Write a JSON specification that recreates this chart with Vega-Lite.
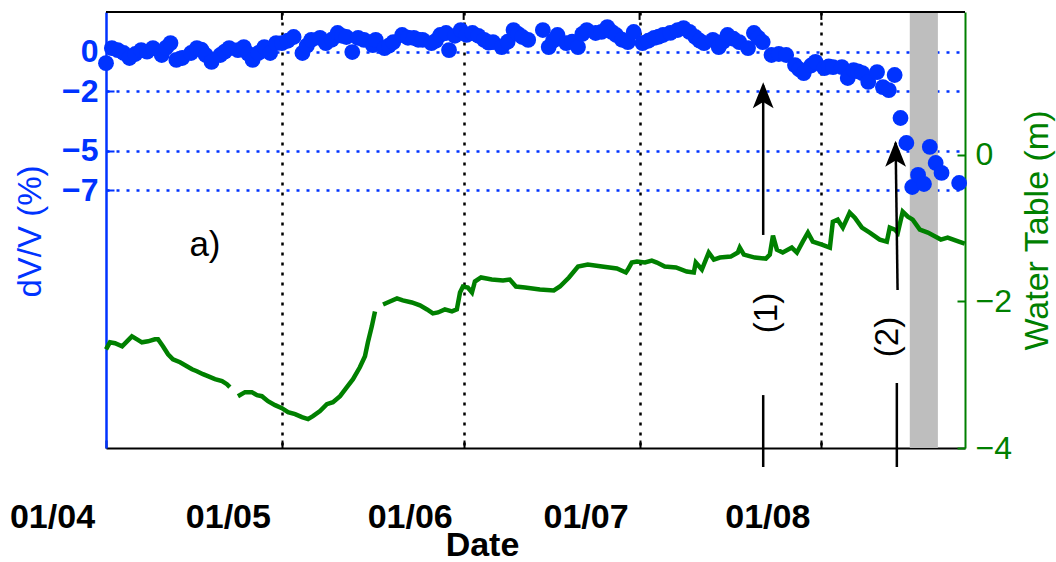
{
 "$schema": "https://vega.github.io/schema/vega-lite/v6.json",
 "width": 859,
 "height": 436,
 "autosize": {"type": "none"},
 "padding": {"left": 106, "top": 12, "right": 91, "bottom": 114},
 "background": "white",
 "config": {"view": {"stroke": null}, "font": "Liberation Sans"},
 "datasets": {
  "band": [{"t0": "2010-08-16T02:00:00Z", "t1": "2010-08-20T21:00:00Z"}],
  "gridt": [{"t": "2010-05-01T00:00:00Z"}, {"t": "2010-06-01T00:00:00Z"}, {"t": "2010-07-01T00:00:00Z"}, {"t": "2010-08-01T00:00:00Z"}],
  "arrows": [
   {"t": "2010-07-22T02:00:00Z", "t2": "2010-07-22T02:00:00Z", "v": -1.7, "v2": -9.25},
   {"t": "2010-07-22T02:00:00Z", "t2": "2010-07-22T02:00:00Z", "v": -17.33, "v2": -20.96},
   {"t": "2010-08-13T16:00:00Z", "t2": "2010-08-14T00:00:00Z", "v": -4.6, "v2": -12.03},
   {"t": "2010-08-13T21:00:00Z", "t2": "2010-08-13T21:00:00Z", "v": -16.72, "v2": -20.96}
  ],
  "heads": [{"t": "2010-07-22T02:00:00Z", "v": -1.55}, {"t": "2010-08-13T16:00:00Z", "v": -4.5}],
  "notes": [{"t": "2010-07-22T17:00:00Z", "v": -13.19, "label": "(1)"}, {"t": "2010-08-12T08:00:00Z", "v": -14.4, "label": "(2)"}],
  "panel": [{"t": "2010-04-17T21:00:00Z", "v": -9.76, "label": "a)"}],
  "dv": [
   {"t": "2010-04-01T00:00:00Z", "v": -0.58},
   {"t": "2010-04-02T00:00:00Z", "v": 0.18},
   {"t": "2010-04-03T00:00:00Z", "v": 0.08},
   {"t": "2010-04-04T00:00:00Z", "v": -0.07},
   {"t": "2010-04-05T00:00:00Z", "v": -0.32},
   {"t": "2010-04-06T00:00:00Z", "v": -0.12},
   {"t": "2010-04-07T00:00:00Z", "v": 0.08},
   {"t": "2010-04-08T00:00:00Z", "v": 0.0},
   {"t": "2010-04-09T00:00:00Z", "v": 0.18},
   {"t": "2010-04-10T12:00:00Z", "v": -0.17},
   {"t": "2010-04-11T06:00:00Z", "v": 0.2},
   {"t": "2010-04-12T00:00:00Z", "v": 0.43},
   {"t": "2010-04-13T00:00:00Z", "v": -0.42},
   {"t": "2010-04-14T00:00:00Z", "v": -0.32},
   {"t": "2010-04-15T12:00:00Z", "v": -0.07},
   {"t": "2010-04-16T12:00:00Z", "v": 0.18},
   {"t": "2010-04-17T06:00:00Z", "v": 0.1},
   {"t": "2010-04-18T00:00:00Z", "v": -0.17},
   {"t": "2010-04-19T00:00:00Z", "v": -0.52},
   {"t": "2010-04-20T12:00:00Z", "v": -0.17},
   {"t": "2010-04-21T06:00:00Z", "v": 0.0},
   {"t": "2010-04-22T00:00:00Z", "v": 0.18},
   {"t": "2010-04-23T12:00:00Z", "v": 0.08},
   {"t": "2010-04-24T12:00:00Z", "v": 0.23},
   {"t": "2010-04-25T06:00:00Z", "v": -0.1},
   {"t": "2010-04-26T00:00:00Z", "v": -0.42},
   {"t": "2010-04-27T00:00:00Z", "v": -0.07},
   {"t": "2010-04-28T00:00:00Z", "v": 0.23},
   {"t": "2010-04-29T00:00:00Z", "v": -0.07},
   {"t": "2010-04-30T00:00:00Z", "v": 0.43},
   {"t": "2010-05-01T00:00:00Z", "v": 0.43},
   {"t": "2010-05-02T00:00:00Z", "v": 0.55},
   {"t": "2010-05-03T00:00:00Z", "v": 0.74},
   {"t": "2010-05-04T12:00:00Z", "v": -0.07},
   {"t": "2010-05-05T06:00:00Z", "v": 0.3},
   {"t": "2010-05-06T00:00:00Z", "v": 0.59},
   {"t": "2010-05-07T12:00:00Z", "v": 0.69},
   {"t": "2010-05-08T12:00:00Z", "v": 0.43},
   {"t": "2010-05-09T12:00:00Z", "v": 0.6},
   {"t": "2010-05-10T12:00:00Z", "v": 0.94},
   {"t": "2010-05-11T06:00:00Z", "v": 0.8},
   {"t": "2010-05-12T00:00:00Z", "v": 0.74},
   {"t": "2010-05-13T00:00:00Z", "v": -0.02},
   {"t": "2010-05-14T00:00:00Z", "v": 0.69},
   {"t": "2010-05-15T00:00:00Z", "v": 0.59},
   {"t": "2010-05-16T12:00:00Z", "v": 0.33},
   {"t": "2010-05-17T00:00:00Z", "v": 0.59},
   {"t": "2010-05-18T12:00:00Z", "v": 0.18},
   {"t": "2010-05-19T06:00:00Z", "v": 0.3},
   {"t": "2010-05-20T00:00:00Z", "v": 0.48},
   {"t": "2010-05-21T12:00:00Z", "v": 0.84},
   {"t": "2010-05-22T12:00:00Z", "v": 0.7},
   {"t": "2010-05-23T12:00:00Z", "v": 0.69},
   {"t": "2010-05-24T06:00:00Z", "v": 0.6},
   {"t": "2010-05-25T00:00:00Z", "v": 0.59},
   {"t": "2010-05-26T12:00:00Z", "v": 0.43},
   {"t": "2010-05-27T06:00:00Z", "v": 0.55},
   {"t": "2010-05-28T00:00:00Z", "v": 0.84},
   {"t": "2010-05-29T00:00:00Z", "v": 0.94},
   {"t": "2010-05-29T12:00:00Z", "v": 0.08},
   {"t": "2010-05-30T12:00:00Z", "v": 0.8},
   {"t": "2010-05-31T12:00:00Z", "v": 1.09},
   {"t": "2010-06-01T12:00:00Z", "v": 0.85},
   {"t": "2010-06-02T12:00:00Z", "v": 0.94},
   {"t": "2010-06-03T12:00:00Z", "v": 0.8},
   {"t": "2010-06-04T12:00:00Z", "v": 0.59},
   {"t": "2010-06-05T06:00:00Z", "v": 0.45},
   {"t": "2010-06-06T00:00:00Z", "v": 0.48},
   {"t": "2010-06-07T12:00:00Z", "v": 0.23},
   {"t": "2010-06-08T12:00:00Z", "v": 0.5},
   {"t": "2010-06-09T12:00:00Z", "v": 1.09},
   {"t": "2010-06-10T06:00:00Z", "v": 0.9},
   {"t": "2010-06-11T00:00:00Z", "v": 0.74},
   {"t": "2010-06-12T00:00:00Z", "v": 0.59},
   {"t": "2010-06-14T12:00:00Z", "v": 1.09},
   {"t": "2010-06-15T12:00:00Z", "v": 0.23},
   {"t": "2010-06-16T06:00:00Z", "v": 0.55},
   {"t": "2010-06-17T00:00:00Z", "v": 0.84},
   {"t": "2010-06-18T12:00:00Z", "v": 0.43},
   {"t": "2010-06-19T12:00:00Z", "v": 0.5},
   {"t": "2010-06-20T12:00:00Z", "v": 0.23},
   {"t": "2010-06-21T06:00:00Z", "v": 0.9},
   {"t": "2010-06-22T00:00:00Z", "v": 1.09},
   {"t": "2010-06-23T12:00:00Z", "v": 0.94},
   {"t": "2010-06-24T12:00:00Z", "v": 1.0},
   {"t": "2010-06-25T12:00:00Z", "v": 1.24},
   {"t": "2010-06-26T06:00:00Z", "v": 1.0},
   {"t": "2010-06-27T00:00:00Z", "v": 0.84},
   {"t": "2010-06-28T00:00:00Z", "v": 0.6},
   {"t": "2010-06-29T00:00:00Z", "v": 0.48},
   {"t": "2010-06-30T00:00:00Z", "v": 0.99},
   {"t": "2010-07-01T12:00:00Z", "v": 0.43},
   {"t": "2010-07-02T12:00:00Z", "v": 0.55},
   {"t": "2010-07-03T12:00:00Z", "v": 0.69},
   {"t": "2010-07-04T06:00:00Z", "v": 0.75},
   {"t": "2010-07-05T00:00:00Z", "v": 0.84},
   {"t": "2010-07-06T06:00:00Z", "v": 0.95},
   {"t": "2010-07-07T12:00:00Z", "v": 1.09},
   {"t": "2010-07-08T12:00:00Z", "v": 1.19},
   {"t": "2010-07-09T12:00:00Z", "v": 1.0},
   {"t": "2010-07-10T12:00:00Z", "v": 0.74},
   {"t": "2010-07-11T06:00:00Z", "v": 0.55},
   {"t": "2010-07-12T00:00:00Z", "v": 0.43},
   {"t": "2010-07-13T12:00:00Z", "v": 0.59},
   {"t": "2010-07-14T12:00:00Z", "v": 0.23},
   {"t": "2010-07-15T06:00:00Z", "v": 0.5},
   {"t": "2010-07-16T00:00:00Z", "v": 0.84},
   {"t": "2010-07-17T00:00:00Z", "v": 0.65},
   {"t": "2010-07-18T00:00:00Z", "v": 0.48},
   {"t": "2010-07-19T12:00:00Z", "v": 0.18},
   {"t": "2010-07-20T12:00:00Z", "v": 0.94},
   {"t": "2010-07-21T06:00:00Z", "v": 0.7},
   {"t": "2010-07-22T00:00:00Z", "v": 0.48},
   {"t": "2010-07-23T12:00:00Z", "v": -0.17},
   {"t": "2010-07-24T18:00:00Z", "v": -0.12},
   {"t": "2010-07-26T00:00:00Z", "v": -0.17},
   {"t": "2010-07-27T12:00:00Z", "v": -0.68},
   {"t": "2010-07-28T06:00:00Z", "v": -0.9},
   {"t": "2010-07-29T00:00:00Z", "v": -1.08},
   {"t": "2010-07-30T06:00:00Z", "v": -0.7},
   {"t": "2010-07-31T00:00:00Z", "v": -0.52},
   {"t": "2010-08-01T12:00:00Z", "v": -0.83},
   {"t": "2010-08-02T06:00:00Z", "v": -0.75},
   {"t": "2010-08-03T00:00:00Z", "v": -0.78},
   {"t": "2010-08-04T12:00:00Z", "v": -0.78},
   {"t": "2010-08-05T12:00:00Z", "v": -1.33},
   {"t": "2010-08-06T12:00:00Z", "v": -0.93},
   {"t": "2010-08-07T06:00:00Z", "v": -1.0},
   {"t": "2010-08-08T00:00:00Z", "v": -1.08},
   {"t": "2010-08-09T00:00:00Z", "v": -1.53},
   {"t": "2010-08-10T12:00:00Z", "v": -1.03},
   {"t": "2010-08-11T12:00:00Z", "v": -1.79},
   {"t": "2010-08-12T12:00:00Z", "v": -1.94},
   {"t": "2010-08-13T12:00:00Z", "v": -1.18},
   {"t": "2010-08-14T12:00:00Z", "v": -3.35},
   {"t": "2010-08-15T12:00:00Z", "v": -4.61},
   {"t": "2010-08-16T12:00:00Z", "v": -6.83},
   {"t": "2010-08-17T12:00:00Z", "v": -6.22},
   {"t": "2010-08-18T12:00:00Z", "v": -6.68},
   {"t": "2010-08-19T12:00:00Z", "v": -4.81},
   {"t": "2010-08-20T12:00:00Z", "v": -5.62},
   {"t": "2010-08-21T12:00:00Z", "v": -6.12},
   {"t": "2010-08-24T12:00:00Z", "v": -6.63}
  ],
  "water": [
   {"t": "2010-04-01T00:00:00Z", "w": -2.653},
   {"t": "2010-04-01T16:00:00Z", "w": -2.558},
   {"t": "2010-04-02T13:00:00Z", "w": -2.571},
   {"t": "2010-04-03T18:00:00Z", "w": -2.612},
   {"t": "2010-04-04T14:00:00Z", "w": -2.544},
   {"t": "2010-04-05T10:00:00Z", "w": -2.476},
   {"t": "2010-04-06T07:00:00Z", "w": -2.517},
   {"t": "2010-04-07T03:00:00Z", "w": -2.558},
   {"t": "2010-04-08T04:00:00Z", "w": -2.544},
   {"t": "2010-04-09T08:00:00Z", "w": -2.517},
   {"t": "2010-04-09T21:00:00Z", "w": -2.517},
   {"t": "2010-04-10T17:00:00Z", "w": -2.612},
   {"t": "2010-04-11T14:00:00Z", "w": -2.721},
   {"t": "2010-04-12T10:00:00Z", "w": -2.789},
   {"t": "2010-04-13T15:00:00Z", "w": -2.83},
   {"t": "2010-04-14T19:00:00Z", "w": -2.884},
   {"t": "2010-04-15T16:00:00Z", "w": -2.925},
   {"t": "2010-04-16T12:00:00Z", "w": -2.952},
   {"t": "2010-04-17T13:00:00Z", "w": -2.993},
   {"t": "2010-04-18T09:00:00Z", "w": -3.02},
   {"t": "2010-04-19T14:00:00Z", "w": -3.061},
   {"t": "2010-04-20T19:00:00Z", "w": -3.088},
   {"t": "2010-04-21T15:00:00Z", "w": -3.129},
   {"t": "2010-04-22T03:00:00Z", "w": -3.17},
   {"t": "2010-04-22T14:00:00Z", "w": null},
   {"t": "2010-04-23T12:00:00Z", "w": -3.293},
   {"t": "2010-04-24T17:00:00Z", "w": -3.238},
   {"t": "2010-04-25T21:00:00Z", "w": -3.238},
   {"t": "2010-04-26T18:00:00Z", "w": -3.279},
   {"t": "2010-04-27T14:00:00Z", "w": -3.293},
   {"t": "2010-04-28T15:00:00Z", "w": -3.361},
   {"t": "2010-04-29T20:00:00Z", "w": -3.415},
   {"t": "2010-05-01T00:00:00Z", "w": -3.456},
   {"t": "2010-05-02T01:00:00Z", "w": -3.51},
   {"t": "2010-05-03T06:00:00Z", "w": -3.537},
   {"t": "2010-05-04T10:00:00Z", "w": -3.578},
   {"t": "2010-05-05T11:00:00Z", "w": -3.605},
   {"t": "2010-05-06T07:00:00Z", "w": -3.565},
   {"t": "2010-05-07T12:00:00Z", "w": -3.497},
   {"t": "2010-05-08T16:00:00Z", "w": -3.401},
   {"t": "2010-05-09T17:00:00Z", "w": -3.374},
   {"t": "2010-05-10T22:00:00Z", "w": -3.293},
   {"t": "2010-05-12T02:00:00Z", "w": -3.17},
   {"t": "2010-05-13T03:00:00Z", "w": -3.061},
   {"t": "2010-05-14T07:00:00Z", "w": -2.898},
   {"t": "2010-05-15T04:00:00Z", "w": -2.748},
   {"t": "2010-05-15T16:00:00Z", "w": -2.558},
   {"t": "2010-05-16T08:00:00Z", "w": -2.34},
   {"t": "2010-05-16T21:00:00Z", "w": -2.136},
   {"t": "2010-05-17T12:00:00Z", "w": null},
   {"t": "2010-05-18T06:00:00Z", "w": -2.041},
   {"t": "2010-05-19T10:00:00Z", "w": -2.0},
   {"t": "2010-05-20T15:00:00Z", "w": -1.959},
   {"t": "2010-05-21T15:00:00Z", "w": -1.986},
   {"t": "2010-05-23T04:00:00Z", "w": -2.014},
   {"t": "2010-05-24T13:00:00Z", "w": -2.054},
   {"t": "2010-05-25T18:00:00Z", "w": -2.109},
   {"t": "2010-05-26T18:00:00Z", "w": -2.163},
   {"t": "2010-05-27T15:00:00Z", "w": -2.15},
   {"t": "2010-05-28T19:00:00Z", "w": -2.109},
   {"t": "2010-05-30T00:00:00Z", "w": -2.136},
   {"t": "2010-05-30T20:00:00Z", "w": -2.109},
   {"t": "2010-05-31T09:00:00Z", "w": -1.878},
   {"t": "2010-05-31T21:00:00Z", "w": -1.796},
   {"t": "2010-06-01T17:00:00Z", "w": -1.81},
   {"t": "2010-06-02T10:00:00Z", "w": -1.878},
   {"t": "2010-06-02T22:00:00Z", "w": -1.728},
   {"t": "2010-06-03T23:00:00Z", "w": -1.673},
   {"t": "2010-06-05T19:00:00Z", "w": -1.701},
   {"t": "2010-06-07T17:00:00Z", "w": -1.714},
   {"t": "2010-06-08T21:00:00Z", "w": -1.701},
   {"t": "2010-06-09T22:00:00Z", "w": -1.796},
   {"t": "2010-06-11T11:00:00Z", "w": -1.81},
   {"t": "2010-06-14T00:00:00Z", "w": -1.837},
   {"t": "2010-06-16T09:00:00Z", "w": -1.85},
   {"t": "2010-06-17T10:00:00Z", "w": -1.796},
   {"t": "2010-06-18T23:00:00Z", "w": -1.673},
   {"t": "2010-06-20T12:00:00Z", "w": -1.524},
   {"t": "2010-06-22T04:00:00Z", "w": -1.497},
   {"t": "2010-06-24T14:00:00Z", "w": -1.524},
   {"t": "2010-06-27T03:00:00Z", "w": -1.551},
   {"t": "2010-06-28T16:00:00Z", "w": -1.605},
   {"t": "2010-06-29T00:00:00Z", "w": -1.565},
   {"t": "2010-06-29T16:00:00Z", "w": -1.469},
   {"t": "2010-06-30T13:00:00Z", "w": -1.456},
   {"t": "2010-07-01T22:00:00Z", "w": -1.469},
   {"t": "2010-07-03T02:00:00Z", "w": -1.442},
   {"t": "2010-07-03T23:00:00Z", "w": -1.469},
   {"t": "2010-07-05T07:00:00Z", "w": -1.524},
   {"t": "2010-07-07T05:00:00Z", "w": -1.537},
   {"t": "2010-07-09T01:00:00Z", "w": -1.592},
   {"t": "2010-07-10T06:00:00Z", "w": -1.605},
   {"t": "2010-07-10T14:00:00Z", "w": -1.469},
   {"t": "2010-07-11T15:00:00Z", "w": -1.565},
   {"t": "2010-07-12T19:00:00Z", "w": -1.333},
   {"t": "2010-07-13T16:00:00Z", "w": -1.429},
   {"t": "2010-07-14T17:00:00Z", "w": -1.401},
   {"t": "2010-07-16T13:00:00Z", "w": -1.388},
   {"t": "2010-07-17T18:00:00Z", "w": -1.333},
   {"t": "2010-07-18T02:00:00Z", "w": -1.265},
   {"t": "2010-07-18T19:00:00Z", "w": -1.361},
   {"t": "2010-07-20T16:00:00Z", "w": -1.401},
   {"t": "2010-07-22T13:00:00Z", "w": -1.415},
   {"t": "2010-07-23T05:00:00Z", "w": -1.361},
   {"t": "2010-07-23T18:00:00Z", "w": -1.102},
   {"t": "2010-07-24T10:00:00Z", "w": -1.293},
   {"t": "2010-07-25T10:00:00Z", "w": -1.333},
   {"t": "2010-07-26T23:00:00Z", "w": -1.265},
   {"t": "2010-07-27T20:00:00Z", "w": -1.333},
   {"t": "2010-07-28T20:00:00Z", "w": -1.184},
   {"t": "2010-07-29T17:00:00Z", "w": -1.061},
   {"t": "2010-07-30T13:00:00Z", "w": -1.184},
   {"t": "2010-08-01T02:00:00Z", "w": -1.224},
   {"t": "2010-08-02T11:00:00Z", "w": -1.265},
   {"t": "2010-08-02T23:00:00Z", "w": -0.912},
   {"t": "2010-08-03T19:00:00Z", "w": -0.884},
   {"t": "2010-08-04T16:00:00Z", "w": -0.993},
   {"t": "2010-08-05T20:00:00Z", "w": -0.789},
   {"t": "2010-08-06T17:00:00Z", "w": -0.857},
   {"t": "2010-08-07T22:00:00Z", "w": -0.993},
   {"t": "2010-08-09T06:00:00Z", "w": -1.061},
   {"t": "2010-08-10T23:00:00Z", "w": -1.156},
   {"t": "2010-08-12T04:00:00Z", "w": -1.184},
   {"t": "2010-08-12T16:00:00Z", "w": -0.993},
   {"t": "2010-08-13T13:00:00Z", "w": -1.02},
   {"t": "2010-08-14T01:00:00Z", "w": -1.061},
   {"t": "2010-08-14T21:00:00Z", "w": -0.776},
   {"t": "2010-08-15T18:00:00Z", "w": -0.844},
   {"t": "2010-08-16T14:00:00Z", "w": -0.884},
   {"t": "2010-08-17T19:00:00Z", "w": -1.02},
   {"t": "2010-08-19T04:00:00Z", "w": -1.061},
   {"t": "2010-08-21T09:00:00Z", "w": -1.156},
   {"t": "2010-08-22T13:00:00Z", "w": -1.129},
   {"t": "2010-08-24T11:00:00Z", "w": -1.184},
   {"t": "2010-08-25T11:00:00Z", "w": -1.211}
  ]
 },
 "layer": [
  {
   "data": {"name": "band"},
   "mark": {"type": "rect", "color": "#bebebe"},
   "encoding": {
    "x": {"field": "t0", "type": "temporal", "title": "Date",
     "scale": {"type": "utc", "domain": [{"year": 2010, "month": 4, "date": 1, "utc": true}, {"year": 2010, "month": 8, "date": 25, "hours": 12, "utc": true}]}},
    "x2": {"field": "t1"}
   }
  },
  {
   "data": {"name": "water"},
   "mark": {"type": "line", "color": "#008000", "strokeWidth": 4.5, "invalid": "break-paths-filter-domains"},
   "encoding": {
    "x": {"field": "t", "type": "temporal", "title": "Date",
     "scale": {"type": "utc", "domain": [{"year": 2010, "month": 4, "date": 1, "utc": true}, {"year": 2010, "month": 8, "date": 25, "hours": 12, "utc": true}]}},
    "y": {"field": "w", "type": "quantitative", "title": "Water Table (m)",
     "scale": {"domain": [-4, 1.95], "nice": false, "zero": false},
     "axis": {"orient": "right", "values": [0, -2, -4], "format": "d", "grid": false,
      "domainColor": "#008000", "domainWidth": 2, "tickColor": "#008000", "tickWidth": 2, "tickSize": -8,
      "labelColor": "#008000", "labelFontSize": 32, "labelFont": "Liberation Sans", "labelPadding": 18, "labelBaseline": "middle",
      "title": "Water Table (m)", "titleColor": "#008000", "titleFontSize": 34, "titleFontWeight": "normal", "titleFont": "Liberation Sans",
      "titleAngle": 270, "titleX": 72, "titleY": 218, "titleBaseline": "middle", "titleAlign": "center"}}
   }
  },
  {
   "layer": [
    {
     "data": {"name": "dv"},
     "mark": {"type": "circle", "size": 250, "color": "#0033ff", "opacity": 1},
     "encoding": {
      "x": {"field": "t", "type": "temporal", "title": "Date",
       "scale": {"type": "utc", "domain": [{"year": 2010, "month": 4, "date": 1, "utc": true}, {"year": 2010, "month": 8, "date": 25, "hours": 12, "utc": true}]},
       "axis": {"values": [{"year": 2010, "month": 4, "date": 1, "utc": true}, {"year": 2010, "month": 5, "date": 1, "utc": true}, {"year": 2010, "month": 6, "date": 1, "utc": true}, {"year": 2010, "month": 7, "date": 1, "utc": true}, {"year": 2010, "month": 8, "date": 1, "utc": true}],
        "format": "%d/%m", "labelOffset": -54, "labelPadding": 60, "labelFontSize": 34, "labelFontWeight": "bold", "labelFont": "Liberation Sans", "labelColor": "black",
        "labelFlush": false, "labelOverlap": false, "labelBound": false,
        "tickSize": -8, "tickColor": "black", "tickWidth": 2, "domainColor": "black", "domainWidth": 2,
        "grid": true, "gridColor": "black", "gridDash": [3, 7], "gridWidth": 2.5,
        "gridOpacity": {"condition": {"test": "datum.value < 1270166400000", "value": 0}, "value": 1},
        "title": "Date", "titleFontSize": 34, "titleFontWeight": "bold", "titleFont": "Liberation Sans", "titleColor": "black",
        "titleX": 376, "titleY": 107, "titleBaseline": "alphabetic", "titleAlign": "center"}},
      "y": {"field": "v", "type": "quantitative", "title": "dV/V (%)",
       "scale": {"domain": [-20, 2], "nice": false, "zero": false},
       "axis": {"orient": "left", "values": [0, -2, -5, -7], "format": "d",
        "domainColor": "#0033ff", "domainWidth": 2.5, "tickColor": "#0033ff", "tickWidth": 2, "tickSize": -8,
        "labelColor": "#0033ff", "labelFontSize": 32, "labelFontWeight": "bold", "labelFont": "Liberation Sans", "labelPadding": 16, "labelBaseline": "middle",
        "grid": true, "gridColor": "#0033ff", "gridDash": [3, 7], "gridWidth": 2.5, "gridOpacity": 1,
        "title": "dV/V (%)", "titleColor": "#0033ff", "titleFontSize": 33, "titleFontWeight": "normal", "titleFont": "Liberation Sans",
        "titleAngle": 270, "titleX": -76, "titleY": 219, "titleBaseline": "middle", "titleAlign": "center"}}
     }
    },
    {
     "data": {"name": "band"},
     "mark": {"type": "rule", "color": "black", "strokeWidth": 2},
     "encoding": {
      "y": {"datum": 2, "type": "quantitative", "title": "dV/V (%)", "scale": {"domain": [-20, 2], "nice": false, "zero": false}}
     }
    },
    {
     "data": {"name": "gridt"},
     "mark": {"type": "rule", "color": "black", "strokeWidth": 2},
     "encoding": {
      "x": {"field": "t", "type": "temporal", "title": "Date",
       "scale": {"type": "utc", "domain": [{"year": 2010, "month": 4, "date": 1, "utc": true}, {"year": 2010, "month": 8, "date": 25, "hours": 12, "utc": true}]}},
      "y": {"datum": 2, "type": "quantitative", "title": "dV/V (%)", "scale": {"domain": [-20, 2], "nice": false, "zero": false}},
      "y2": {"datum": 1.6}
     }
    },
    {
     "data": {"name": "arrows"},
     "mark": {"type": "rule", "color": "black", "strokeWidth": 2.5},
     "encoding": {
      "x": {"field": "t", "type": "temporal", "title": "Date",
       "scale": {"type": "utc", "domain": [{"year": 2010, "month": 4, "date": 1, "utc": true}, {"year": 2010, "month": 8, "date": 25, "hours": 12, "utc": true}]}},
      "x2": {"field": "t2"},
      "y": {"field": "v", "type": "quantitative", "title": "dV/V (%)", "scale": {"domain": [-20, 2], "nice": false, "zero": false}},
      "y2": {"field": "v2"}
     }
    },
    {
     "data": {"name": "heads"},
     "mark": {"type": "point", "shape": "M0,0L0.4,1L0,0.76L-0.4,1Z", "size": 2700, "filled": true, "color": "black", "opacity": 1, "strokeWidth": 0},
     "encoding": {
      "x": {"field": "t", "type": "temporal", "title": "Date",
       "scale": {"type": "utc", "domain": [{"year": 2010, "month": 4, "date": 1, "utc": true}, {"year": 2010, "month": 8, "date": 25, "hours": 12, "utc": true}]}},
      "y": {"field": "v", "type": "quantitative", "title": "dV/V (%)", "scale": {"domain": [-20, 2], "nice": false, "zero": false}}
     }
    },
    {
     "data": {"name": "notes"},
     "mark": {"type": "text", "angle": 270, "fontSize": 33, "font": "Liberation Sans", "color": "black", "align": "center", "baseline": "middle"},
     "encoding": {
      "x": {"field": "t", "type": "temporal", "title": "Date",
       "scale": {"type": "utc", "domain": [{"year": 2010, "month": 4, "date": 1, "utc": true}, {"year": 2010, "month": 8, "date": 25, "hours": 12, "utc": true}]}},
      "y": {"field": "v", "type": "quantitative", "title": "dV/V (%)", "scale": {"domain": [-20, 2], "nice": false, "zero": false}},
      "text": {"field": "label"}
     }
    },
    {
     "data": {"name": "panel"},
     "mark": {"type": "text", "fontSize": 35, "font": "Liberation Sans", "color": "black", "align": "center", "baseline": "middle"},
     "encoding": {
      "x": {"field": "t", "type": "temporal", "title": "Date",
       "scale": {"type": "utc", "domain": [{"year": 2010, "month": 4, "date": 1, "utc": true}, {"year": 2010, "month": 8, "date": 25, "hours": 12, "utc": true}]}},
      "y": {"field": "v", "type": "quantitative", "title": "dV/V (%)", "scale": {"domain": [-20, 2], "nice": false, "zero": false}},
      "text": {"field": "label"}
     }
    }
   ]
  }
 ],
 "resolve": {"scale": {"y": "independent"}}
}
